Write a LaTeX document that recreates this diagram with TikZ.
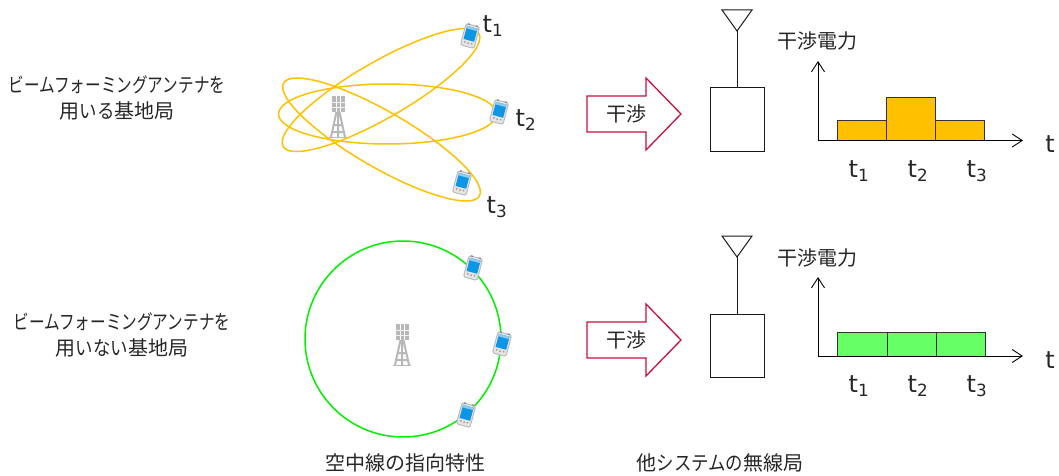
\documentclass[tikz,border=0pt]{standalone}
\usepackage{fontspec}
\usetikzlibrary{arrows.meta,shapes.geometric}
\setmainfont{DejaVu Sans}
\newfontfamily\jpfont{Noto Sans CJK JP}
\newfontfamily\kanafont[FakeStretch=0.78]{Noto Sans CJK JP}
\newfontfamily\kanawide[FakeStretch=0.87]{Noto Sans CJK JP}
\newcommand{\kn}[1]{{\kanafont #1}}
\newcommand{\kw}[1]{{\kanawide #1}}
\definecolor{beamc}{HTML}{FFC000}
\definecolor{omnic}{HTML}{00F000}
\definecolor{barg}{HTML}{66FF66}
\definecolor{arrc}{HTML}{C8103F}
\definecolor{towerc}{HTML}{B8B8B8}
\definecolor{scr}{HTML}{0E96E6}
\definecolor{scrl}{HTML}{8CCBF0}
\tikzset{
  jp/.style={inner sep=0pt,font=\jpfont\fontsize{20}{23}\selectfont,text=black!85},
  tlab/.style={inner sep=0pt,font=\fontsize{24}{27}\selectfont,text=black!85},
  beam/.style={draw=beamc,line width=1.5pt},
  omni/.style={draw=omnic,line width=1.5pt},
  hollow/.style={draw=black!90,line width=1pt,fill=white},
  stem/.style={draw=black!90,line width=1pt},
  axisline/.style={draw=black,line width=.9pt,-{Straight Barb[length=10pt,width=13pt,line width=.9pt]}},
  barbox/.style={draw=black!80,line width=.9pt,inner sep=0pt,anchor=south west},
  interf/.style={draw=arrc,line width=1.3pt,fill=white},
  phone/.pic={
    \begin{scope}[rotate=-15]
      \fill[black!28,rounded corners=2.5pt] (-7.5,-11.5) rectangle (7.5,11.5);
      \fill[black!10,rounded corners=2pt] (-6.5,-10.5) rectangle (6.5,10.5);
      \fill[black!55] (-5,-11.8) rectangle (-3,-10.8) (3,-11.8) rectangle (5,-10.8);
      \fill[black!35] (-3.5,7) circle (1.1) (0,7.5) circle (1.1) (3.5,7) circle (1.1);
      \fill[scr] (-5.5,-9) rectangle (5.5,4.5);
      \fill[scrl] (-5.5,-9) rectangle (5.5,-6.5);
    \end{scope}},
  tower/.pic={
    \fill[towerc] (-6.5,-21) rectangle (6.5,-5);
    \draw[white,line width=.5pt] (-2.2,-21) -- (-2.2,-5) (2.2,-21) -- (2.2,-5);
    \draw[white!80!towerc,line width=.5pt] (-6.5,-15) -- (6.5,-15) (-6.5,-10) -- (6.5,-10);
    \draw[towerc,line width=2pt] (-1.5,-5) -- (-7,20) (1.5,-5) -- (7,20) (0,-5) -- (0,20)
      (-3.5,8) -- (3.5,8) (-5,15) -- (5,15);
    \fill[towerc] (-9,19.5) rectangle (9,21);
  }
}
\begin{document}
\begin{tikzpicture}[x=1pt,y=-1pt]
\useasboundingbox (0,0) rectangle (1059,476);
% left labels
\node[jp] (l1a) at (117,85) {\kn{ビームフォーミングアンテナを}};
\node[jp] (l1b) at (117,111) {用\kw{いる}基地局};
\node[jp] (l2a) at (122,322) {\kn{ビームフォーミングアンテナを}};
\node[jp] (l2b) at (122,348) {用\kw{いない}基地局};
% beams
\begin{scope}[shift={(381,90)},rotate=30]
\draw[beam] (0,0) ellipse [x radius=113,y radius=28];
\end{scope}
\begin{scope}[shift={(381.5,139.5)},rotate=-30]
\draw[beam] (0,0) ellipse [x radius=113,y radius=28];
\end{scope}
\draw[beam] (387.5,114) ellipse [x radius=109,y radius=30];
\pic at (338,117) {tower};
\pic at (470,36) {phone};
\pic at (499,112) {phone};
\pic at (462,183) {phone};
\node[tlab] (ta) at (493,26) {t\textsubscript{1}};
\node[tlab] (tb) at (526,120) {t\textsubscript{2}};
\node[tlab] (tc) at (497,207) {t\textsubscript{3}};
% omni
\draw[omni] (403,339) circle [radius=98];
\pic at (402,345) {tower};
\pic at (473,268) {phone};
\pic at (502,344) {phone};
\pic at (466,415) {phone};
% upper station
\draw[interf] (587,96) -- (646,96) -- (646,78) -- (681,114) -- (646,150) -- (646,132) -- (587,132) -- cycle;
\node[jp] (ia) at (626,114) {干渉};
\node[hollow,minimum width=54pt,minimum height=63pt,inner sep=0pt] (boxa) at (737,119.5) {};
\coordinate (anta) at (737,31);
\draw[hollow] (anta) -- (722,10) -- (752,10) -- cycle;
\draw[stem] (anta) -- (boxa.north);
\node[jp] (pa) at (817,41) {干渉電力};
\coordinate (oa) at (818,140.5);
\coordinate (ya) at (818,61);
\coordinate (xa) at (1023,140.5);
\node[barbox,fill=beamc,minimum width=49pt,minimum height=20.5pt] (b1) at (837,141) {};
\node[barbox,fill=beamc,minimum width=49pt,minimum height=43pt] (b2) at (886,141) {};
\node[barbox,fill=beamc,minimum width=49pt,minimum height=20.5pt] (b3) at (935,141) {};
\draw[axisline] (oa) -- (ya);
\draw[axisline] (oa) -- (xa);
\node[tlab] (t1a) at (859,171) {t\textsubscript{1}};
\node[tlab] (t2a) at (918,171) {t\textsubscript{2}};
\node[tlab] (t3a) at (977,171) {t\textsubscript{3}};
\node[tlab] (tta) at (1050,144) {t};
% lower station
\draw[interf] (587,322) -- (646,322) -- (646,304) -- (681,340) -- (646,376) -- (646,358) -- (587,358) -- cycle;
\node[jp] (ib) at (626,340) {干渉};
\node[hollow,minimum width=54pt,minimum height=63pt,inner sep=0pt] (boxb) at (737,345.5) {};
\coordinate (antb) at (737,257);
\draw[hollow] (antb) -- (722,236) -- (752,236) -- cycle;
\draw[stem] (antb) -- (boxb.north);
\node[jp] (pb) at (817,258) {干渉電力};
\coordinate (ob) at (818,356);
\coordinate (yb) at (818,277);
\coordinate (xb) at (1023,356);
\node[barbox,fill=barg,minimum width=50pt,minimum height=24pt] (g1) at (837,357) {};
\node[barbox,fill=barg,minimum width=49pt,minimum height=24pt] (g2) at (887,357) {};
\node[barbox,fill=barg,minimum width=49pt,minimum height=24pt] (g3) at (936,357) {};
\draw[axisline] (ob) -- (yb);
\draw[axisline] (ob) -- (xb);
\node[tlab] (t1b) at (859,386) {t\textsubscript{1}};
\node[tlab] (t2b) at (918,386) {t\textsubscript{2}};
\node[tlab] (t3b) at (977,386) {t\textsubscript{3}};
\node[tlab] (ttb) at (1050,360) {t};
% captions
\node[jp] (c1) at (405,463) {空中線の指向特性};
\node[jp] (c2) at (720,463) {他\kw{システムの}無線局};
\end{tikzpicture}
\end{document}
